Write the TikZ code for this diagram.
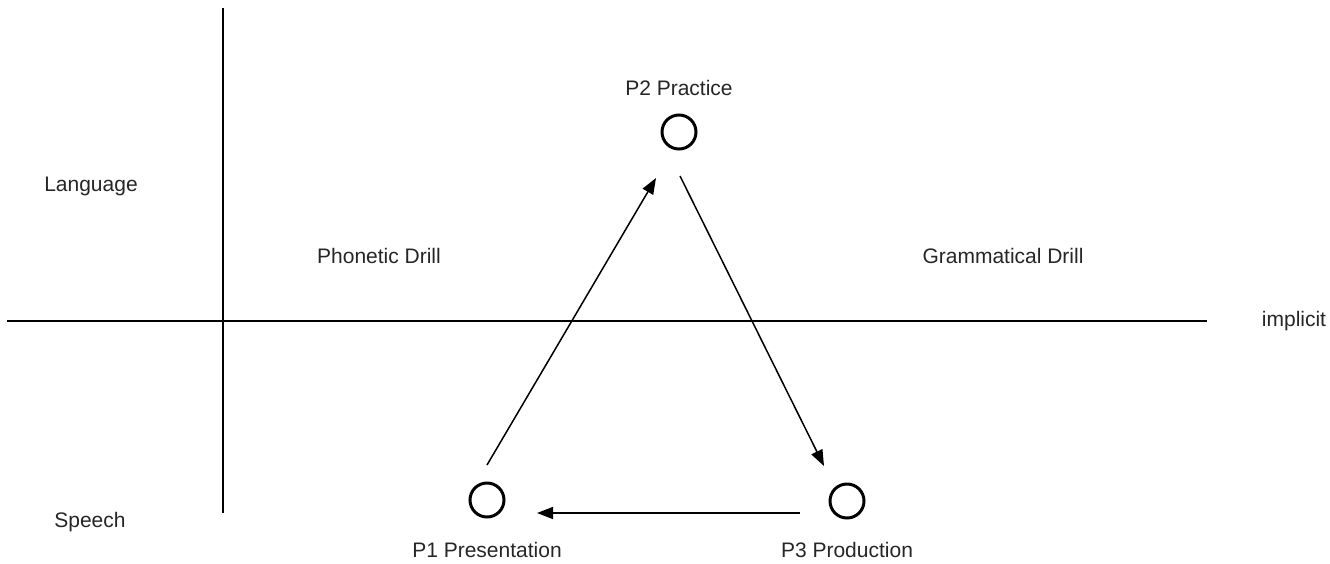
\documentclass[tikz,border=0pt]{standalone}
\usepackage{fontspec}
\setmainfont{Liberation Sans}
\usetikzlibrary{arrows.meta}
\begin{document}
\begin{tikzpicture}[x=1pt,y=-1pt,
  lbl/.style={font=\fontsize{21}{24}\selectfont, text=black!85, inner sep=0pt},
  stage/.style={circle, draw, line width=3pt, minimum size=34pt, inner sep=0pt},
  axis/.style={line width=1.6pt},
  flow/.style={line width=1.5pt, -{Triangle[length=16pt,width=12pt]}}]
\useasboundingbox (0,0) rectangle (1330,563);
% axes
\coordinate (vtop) at (223,8);
\coordinate (vbot) at (223,513);
\coordinate (hl) at (7,321);
\coordinate (hr) at (1207,321);
\draw[axis] (vtop) -- (vbot);
\draw[axis] (hl) -- (hr);
% labels
\node[lbl] (impl) at (1294,321) {implicit};
\node[lbl] (lang) at (91,186) {Language};
\node[lbl] (spch) at (90,522) {Speech};
\node[lbl] (phon) at (379,256) {Phonetic Drill};
\node[lbl] (gram) at (1003,256) {Grammatical Drill};
% stages
\node[stage] (p2) at (679,132) {};
\node[stage] (p1) at (487,500) {};
\node[stage] (p3) at (847,501) {};
\node[lbl] (p2l) at (679,88) {P2 Practice};
\node[lbl] (p1l) at (487,550) {P1 Presentation};
\node[lbl] (p3l) at (847,550) {P3 Production};
% arrows
\coordinate (a1s) at (487,465);
\coordinate (a1e) at (656,178);
\coordinate (a2s) at (680,176);
\coordinate (a2e) at (824,466);
\coordinate (a3s) at (800,513);
\coordinate (a3e) at (537,513);
\draw[flow] (a1s) -- (a1e);
\draw[flow] (a2s) -- (a2e);
\draw[flow] (a3s) -- (a3e);
\end{tikzpicture}
\end{document}
